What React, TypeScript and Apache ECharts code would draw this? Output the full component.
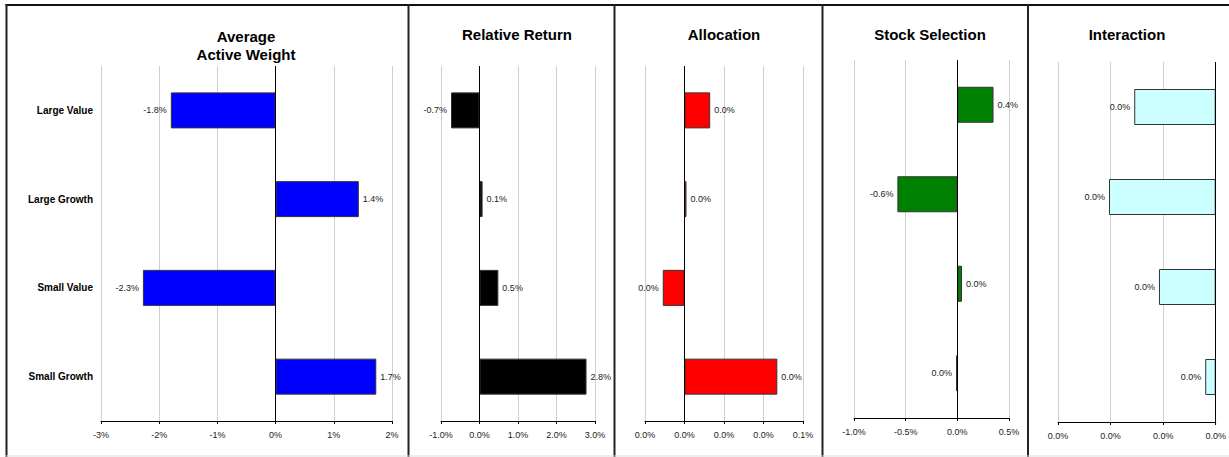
import React, { useEffect, useRef } from "react";
import * as echarts from "echarts";

const categories = ["Large Value", "Large Growth", "Small Value", "Small Growth"];
const activeWeight = [-1.8, 1.43, -2.28, 1.73];
const relativeReturn = [-0.74, 0.08, 0.49, 2.78];
const allocation = [0.013, 0.001, -0.011, 0.047];
const stockSelection = [0.35, -0.58, 0.045, -0.012];
const interaction = [-0.0155, -0.0203, -0.0108, -0.002];

const titles = ["Average\nActive Weight", "Relative Return", "Allocation", "Stock Selection", "Interaction"];
// [min, max, interval] for each panel's value axis (percent units)
const axisActive = [-3, 2, 1];
const axisRelative = [-1, 3, 1];
const axisAllocation = [-0.02, 0.06, 0.02];
const axisStock = [-1, 0.5, 0.5];
const axisInteraction = [-0.03, 0, 0.01];

const colors = ["#0000FF", "#000000", "#FF0000", "#008000", "#CCFFFF"];

const FONT = "'Liberation Sans', Arial, Helvetica, sans-serif";

function fmt1(v: number): string {
  const r = Math.round(v * 10) / 10;
  return (r === 0 ? 0 : r).toFixed(1) + "%";
}
function fmt0(v: number): string {
  const r = Math.round(v);
  return (r === 0 ? 0 : r) + "%";
}

export default function App() {
  const ref = useRef<HTMLDivElement>(null);
  useEffect(() => {
    if (!ref.current) return;
    const chart = echarts.init(ref.current, undefined, { renderer: "svg" });

    const seriesData = [activeWeight, relativeReturn, allocation, stockSelection, interaction];
    const axes = [axisActive, axisRelative, axisAllocation, axisStock, axisInteraction];
    const gridRects = [
      { left: 101, top: 66, width: 291, height: 355 },
      { left: 441, top: 66, width: 154, height: 355 },
      { left: 645, top: 66, width: 158, height: 355 },
      { left: 854, top: 60, width: 155, height: 358 },
      { left: 1058, top: 62, width: 158, height: 360 },
    ];
    const titleCenters = [
      [246, 45],
      [517, 34],
      [724, 34],
      [930, 34],
      [1127, 34],
    ];

    const grid = gridRects.map((g) => ({ ...g, containLabel: false }));
    const xAxis = axes.map((a, i) => ({
      type: "value",
      gridIndex: i,
      min: a[0],
      max: a[1],
      interval: a[2],
      axisLine: { show: true, onZero: false, lineStyle: { color: "#000", width: 1 } },
      axisTick: { show: true, length: 3, lineStyle: { color: "#000" } },
      axisLabel: {
        fontFamily: FONT,
        fontSize: 9,
        color: "#222",
        margin: 9,
        formatter: i === 0 ? fmt0 : fmt1,
      },
      splitLine: { show: true, lineStyle: { color: "#cfcfcf", width: 1 } },
    }));
    const yAxis = axes.map((_, i) => ({
      type: "category",
      gridIndex: i,
      data: categories,
      inverse: true,
      axisLine: { show: false },
      axisTick: { show: false },
      axisLabel: {
        show: i === 0,
        fontFamily: FONT,
        fontSize: 10,
        fontWeight: "bold",
        color: "#000",
        margin: 8,
      },
      splitLine: { show: false },
    }));
    const series = seriesData.map((arr, i) => ({
      type: "bar",
      xAxisIndex: i,
      yAxisIndex: i,
      barWidth: 36,
      itemStyle: { color: colors[i], borderColor: "#333", borderWidth: 1 },
      data: arr.map((v) => ({
        value: v,
        label: { position: v < 0 ? "left" : "right" },
      })),
      label: {
        show: true,
        distance: 4,
        fontFamily: FONT,
        fontSize: 9,
        color: "#222",
        formatter: (p: any) => fmt1(p.value),
      },
      markLine: {
        silent: true,
        symbol: "none",
        label: { show: false },
        lineStyle: { color: "#000", width: 1, type: "solid" },
        data: [{ xAxis: 0 }],
      },
    }));

    const borderX = [6.5, 408.5, 614.5, 822.5, 1028];
    const graphic: any[] = [
      {
        type: "line",
        shape: { x1: 5.5, y1: 5, x2: 1229, y2: 5 },
        style: { stroke: "#111", lineWidth: 2 },
      },
      ...borderX.map((x) => ({
        type: "line",
        shape: { x1: x, y1: 4, x2: x, y2: 457 },
        style: { stroke: "#222", lineWidth: 2 },
      })),
      {
        type: "line",
        shape: { x1: 5.5, y1: 456, x2: 1229, y2: 456 },
        style: { stroke: "#ddd", lineWidth: 1 },
      },
      ...titles.map((t, i) => ({
        type: "text",
        x: titleCenters[i][0],
        y: titleCenters[i][1],
        style: {
          text: t,
          textAlign: "center",
          textVerticalAlign: "middle",
          fontFamily: FONT,
          fontSize: 15,
          fontWeight: "bold",
          lineHeight: 18,
          fill: "#000",
        },
      })),
    ];

    chart.setOption({
      animation: false,
      backgroundColor: "#fff",
      grid,
      xAxis,
      yAxis,
      series,
      graphic,
    } as any);

    return () => chart.dispose();
  }, []);

  return (
    <div
      ref={ref}
      style={{ position: "fixed", left: 0, top: 0, width: 1229, height: 457 }}
    />
  );
}
